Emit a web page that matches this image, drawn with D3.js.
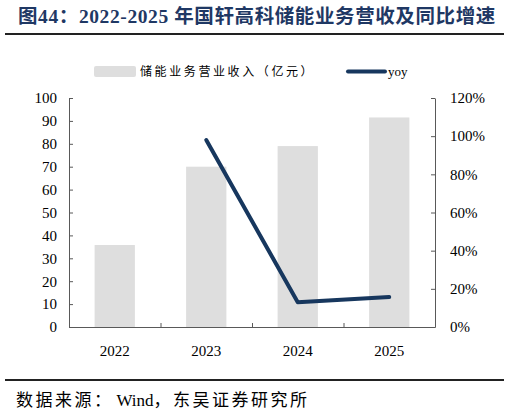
<!DOCTYPE html>
<html>
<head>
<meta charset="utf-8">
<script src="https://cdn.jsdelivr.net/npm/d3@7"></script>
<style>
  body { margin: 0; background: #fff; }
  text { font-family: "Liberation Serif", "Noto Sans CJK SC", serif; }
</style>
</head>
<body>
<script>
// 国轩高科储能业务营收及同比增速
var years = ["2022", "2023", "2024", "2025"];
var revenue = [35.8, 70, 79, 91.5];
var yoy = [null, 0.98, 0.13, 0.157];
var leftTicks = [0, 10, 20, 30, 40, 50, 60, 70, 80, 90, 100];
var rightTicks = [0, 0.2, 0.4, 0.6, 0.8, 1.0, 1.2];

var svgWidth = 509, svgHeight = 413;
var margin = {top: 98, right: 74, bottom: 86, left: 69};
var width = svgWidth - margin.left - margin.right;
var height = svgHeight - margin.top - margin.bottom;
var axisColor = "#595959", lineColor = "#17375e", barColor = "#dedede";

var svg = d3.select("body").append("svg")
    .attr("width", svgWidth)
    .attr("height", svgHeight);

// 标题
svg.append("text")
  .attr("x", 18).attr("y", 23)
  .attr("font-size", "19.5px")
  .attr("font-weight", "bold")
  .attr("letter-spacing", "0.6px")
  .attr("fill", "#1f3864")
  .text("图44：2022-2025 年国轩高科储能业务营收及同比增速");

svg.append("line")
  .attr("x1", 5).attr("x2", 504).attr("y1", 34).attr("y2", 34)
  .attr("stroke", "#222").attr("stroke-width", 2);

var g = svg.append("g")
  .attr("transform", "translate(" + margin.left + "," + margin.top + ")");

var x = d3.scaleBand().domain(years).range([0, width]).paddingInner(0.56).paddingOuter(0.28);
var xb = d3.scaleLinear().domain([0, years.length]).range([0, width]);
var y = d3.scaleLinear().domain([0, 100]).range([height, 0]);
var y2 = d3.scaleLinear().domain([0, 1.2]).range([height, 0]);

// 柱子
g.selectAll(".bar")
  .data(revenue)
  .enter()
  .append("rect")
  .attr("class", "bar")
  .attr("x", function(d, i){ return x(years[i]); })
  .attr("y", function(d){ return y(d); })
  .attr("width", x.bandwidth())
  .attr("height", function(d){ return height - y(d); })
  .attr("fill", barColor);

// 左轴
var left = g.append("g")
  .call(d3.axisLeft(y).tickValues(leftTicks).tickSizeInner(-4).tickSizeOuter(0).tickPadding(12));
// 右轴
var right = g.append("g")
  .attr("transform", "translate(" + width + ",0)")
  .call(d3.axisRight(y2).tickValues(rightTicks).tickSizeInner(-4).tickSizeOuter(0).tickPadding(15)
    .tickFormat(function(d){ return Math.round(d * 100) + "%"; }));
// 底轴
var bottom = g.append("g")
  .attr("transform", "translate(0," + height + ")")
  .call(d3.axisBottom(xb).tickValues([1, 2, 3]).tickSizeInner(-4).tickSizeOuter(0).tickFormat(""));

[left, right, bottom].forEach(function(a){
  a.select(".domain").attr("stroke", axisColor);
  a.selectAll(".tick line").attr("stroke", axisColor);
  a.selectAll("text").attr("font-size", "15px").attr("fill", "#000")
    .attr("font-family", "Liberation Serif");
});

g.selectAll(".xlabel")
  .data(years)
  .enter()
  .append("text")
  .attr("class", "xlabel")
  .attr("x", function(d){ return x(d) + x.bandwidth() / 2; })
  .attr("y", height + 29)
  .attr("text-anchor", "middle")
  .attr("font-size", "15px")
  .text(function(d){ return d; });

// yoy 折线
var line = d3.line()
  .defined(function(d){ return d != null; })
  .x(function(d, i){ return x(years[i]) + x.bandwidth() / 2; })
  .y(function(d){ return y2(d); });

g.append("path")
  .datum(yoy)
  .attr("d", line)
  .attr("fill", "none")
  .attr("stroke", lineColor)
  .attr("stroke-width", 4)
  .attr("stroke-linejoin", "round")
  .attr("stroke-linecap", "round");

// 图例
svg.append("rect")
  .attr("x", 94).attr("y", 66).attr("width", 42).attr("height", 11)
  .attr("rx", 2).attr("fill", barColor);
svg.append("text")
  .attr("x", 140).attr("y", 76)
  .attr("font-size", "12px")
  .attr("font-family", "Noto Sans CJK SC")
  .attr("letter-spacing", "2.6px")
  .text("储能业务营业收入（亿元）");
svg.append("line")
  .attr("x1", 348).attr("x2", 385).attr("y1", 71.5).attr("y2", 71.5)
  .attr("stroke", lineColor).attr("stroke-width", 4).attr("stroke-linecap", "round");
svg.append("text")
  .attr("x", 388).attr("y", 76)
  .attr("font-size", "13px")
  .attr("font-family", "Liberation Sans")
  .text("yoy");

// 底部
svg.append("line")
  .attr("x1", 5).attr("x2", 504).attr("y1", 380).attr("y2", 380)
  .attr("stroke", "#222").attr("stroke-width", 2);
var src = svg.append("text")
  .attr("x", 16).attr("y", 406)
  .attr("font-size", "17px");
src.append("tspan").attr("letter-spacing", "2.5px").text("数据来源：");
src.append("tspan").attr("dx", 3).text("Wind");
src.append("tspan").attr("letter-spacing", "2.5px").text("，东吴证券研究所");
</script>
</body>
</html>
